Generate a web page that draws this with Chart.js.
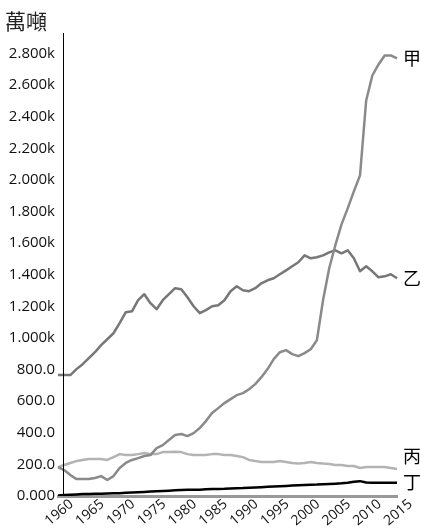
<!DOCTYPE html>
<html>
<head>
<meta charset="utf-8">
<script src="https://cdn.jsdelivr.net/npm/chart.js@4/dist/chart.umd.min.js"></script>
<style>
  html, body { margin: 0; padding: 0; background: #fff; }
  #wrap { width: 421px; height: 531px; position: relative; }
</style>
</head>
<body>
<div id="wrap"><canvas id="chart"></canvas></div>
<script>
// years 1960 - 2015
const years = [];
for (let y = 1960; y <= 2015; y++) years.push(String(y));
const xTickLabels = ['1960','1965','1970','1975','1980','1985','1990','1995','2000','2005','2010','2015'];

const seriesNames = ['甲', '乙', '丙', '丁'];

const jia = [183,164,133,107,107,107,114,126,101,126,177,209,228,240,253,259,303,322,354,386,
  392,379,398,430,474,525,556,588,613,638,651,676,708,752,803,866,910,923,898,885,
  904,929,986,1239,1441,1587,1719,1820,1928,2029,2503,2661,2731,2788,2788,2769];

const yi = [765,765,765,803,834,872,910,955,992,1030,1094,1163,1169,1239,1277,1220,1182,1239,1277,1315,
  1308,1258,1201,1157,1176,1201,1207,1239,1296,1327,1302,1296,1315,1346,1365,1378,1403,1428,1454,1479,
  1523,1504,1511,1523,1542,1555,1536,1555,1504,1422,1454,1422,1384,1390,1403,1378];

const bing = [183,196,209,221,228,234,234,234,228,246,265,259,259,265,272,265,265,278,278,280,
  278,265,259,259,259,265,265,259,259,253,246,228,221,215,215,215,221,215,209,205,
  209,215,209,205,202,196,196,190,190,177,183,183,183,183,177,171];

const ding = [3,6,8,10,12,13,14,15,16,17,18,20,22,24,26,28,30,32,34,36,
  38,40,39,40,42,44,45,46,48,49,50,52,54,56,58,60,62,64,66,68,
  70,71,72,74,76,78,80,84,90,94,86,84,84,84,84,84];

const yTickValues = [0,200,400,600,800,1000,1200,1400,1600,1800,2000,2200,2400,2600,2800];
const yTickLabels = ['0.000','200.0','400.0','600.0','800.0','1.000k','1.200k','1.400k','1.600k',
  '1.800k','2.000k','2.200k','2.400k','2.600k','2.800k'];

const colors = ['#8a8a8a', '#777777', '#b3b3b3', '#000000'];
const labelShift = [0, 0, -13, -1];

const extras = {
  id: 'extras',
  afterDraw(chart) {
    const ctx = chart.ctx;
    const area = chart.chartArea;
    const xs = chart.scales.x;
    ctx.save();
    // y axis line
    ctx.strokeStyle = '#000';
    ctx.lineWidth = 1;
    ctx.beginPath();
    ctx.moveTo(area.left + 5.5, area.top);
    ctx.lineTo(area.left + 5.5, area.bottom);
    ctx.stroke();
    // x tick labels, rotated
    ctx.fillStyle = '#111';
    ctx.font = '14px "Open Sans"';
    ctx.textAlign = 'right';
    ctx.textBaseline = 'top';
    xTickLabels.forEach(lab => {
      const px = xs.getPixelForValue(years.indexOf(lab));
      ctx.save();
      ctx.translate(px + 9, area.bottom + 1);
      ctx.rotate(-40 * Math.PI / 180);
      ctx.fillText(lab, 0, 0);
      ctx.restore();
    });
    // unit
    ctx.fillStyle = '#222';
    ctx.font = '21px "Noto Sans CJK TC"';
    ctx.textBaseline = 'alphabetic';
    ctx.textAlign = 'left';
    ctx.fillText('萬噸', 5, 29);
    // series names at line ends
    ctx.font = '18px "Noto Sans CJK TC"';
    ctx.textBaseline = 'middle';
    chart.data.datasets.forEach((ds, i) => {
      const meta = chart.getDatasetMeta(i);
      const pt = meta.data[meta.data.length - 1];
      ctx.fillStyle = '#000';
      ctx.fillText(seriesNames[i], pt.x + 6, pt.y + labelShift[i]);
    });
    ctx.restore();
  }
};

const dsList = [jia, yi, bing, ding].map((d, i) => ({
  label: seriesNames[i],
  data: d,
  borderColor: colors[i],
  backgroundColor: colors[i],
  borderWidth: 2.5,
  pointRadius: 0,
  tension: 0,
  borderJoinStyle: 'round'
}));

new Chart(document.getElementById('chart'), {
  type: 'line',
  data: { labels: years, datasets: dsList },
  options: {
    responsive: true,
    maintainAspectRatio: false,
    animation: false,
    layout: { padding: { top: 33, right: 24, left: 0, bottom: 0 } },
    plugins: { legend: { display: false }, tooltip: { enabled: false } },
    scales: {
      x: {
        offset: false,
        grid: { display: false, drawTicks: false },
        border: { display: true, color: '#999', width: 3 },
        ticks: { display: false },
        afterFit(scale) { scale.height = 35; }
      },
      y: {
        min: 0,
        max: 2930,
        grid: { display: false, drawTicks: false },
        border: { display: false },
        afterBuildTicks(scale) {
          scale.ticks = yTickValues.map(v => ({ value: v }));
        },
        ticks: {
          padding: 3,
          color: '#111',
          font: { family: 'Open Sans', size: 15 },
          callback: function (v) {
            const k = yTickValues.indexOf(v);
            return k >= 0 ? yTickLabels[k] : '';
          }
        },
        afterFit(scale) { scale.width = 58; }
      }
    }
  },
  plugins: [extras]
});
</script>
</body>
</html>
